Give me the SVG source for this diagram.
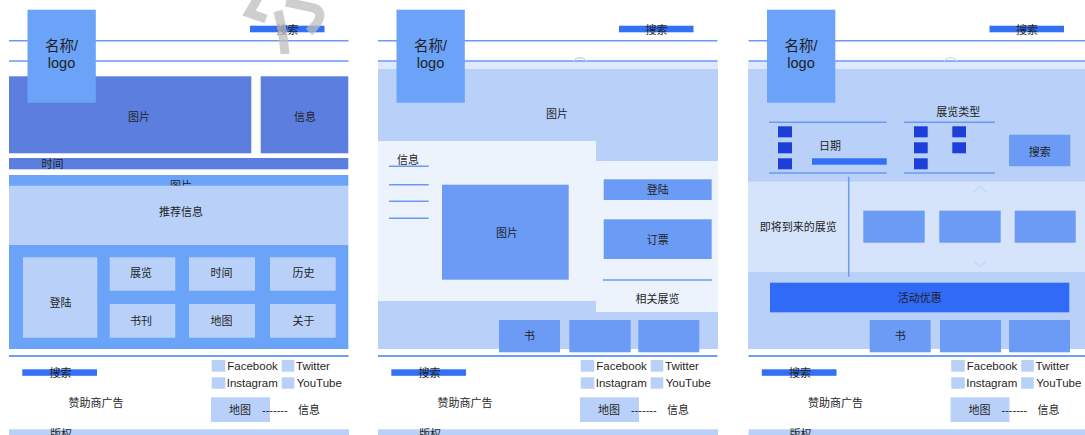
<svg xmlns="http://www.w3.org/2000/svg" xmlns:xlink="http://www.w3.org/1999/xlink" width="1085" height="435" viewBox="0 0 1085 435">
<style>
text{font-family:"Liberation Sans","Noto Sans CJK SC",sans-serif;font-size:11px;fill:#1f1f1f;dominant-baseline:central}
.c{text-anchor:middle}
.logo{font-size:14.5px}
.lat{font-size:11.5px}
.hl{stroke:#6a9af2;stroke-width:1.5;fill:none}
.fl{stroke:#3d7ff4;stroke-width:1.6;fill:none}
.lt{fill:#b9d1f8}
.md{fill:#6b9bf4}
.dk{fill:#5c7fdf}
.lg{fill:#6aa3f8}
.br{fill:#3370f5}
.sq{fill:#1b3fd8}
.wm{stroke:#bdbdbd;stroke-width:9;fill:none;stroke-opacity:0.75;stroke-linecap:butt}
.chev{stroke:#c3d5f5;stroke-width:1.2;fill:none}
</style>
<defs>
<g id="header">
<line class="hl" x1="9" y1="40.7" x2="348.5" y2="40.7"/>
<line class="hl" x1="9" y1="61" x2="348.5" y2="61"/>
<rect class="br" x="250" y="25.7" width="74.5" height="6.6"/>
<text class="c" x="287.5" y="29.5">搜索</text>
</g>
<g id="logo">
<rect class="lg" x="27.5" y="9.7" width="68.3" height="93"/>
<text class="c logo" x="61.5" y="45.5">名称/</text>
<text class="c logo" x="61.5" y="62.5">logo</text>
</g>
<g id="footer">
<line class="fl" x1="9" y1="356" x2="348.5" y2="356"/>
<rect class="br" x="22.3" y="369.3" width="74.7" height="6.5"/>
<text class="c" x="60.5" y="372.8">搜索</text>
<text class="c" x="96" y="403">赞助商广告</text>
<rect class="lt" x="211.7" y="360" width="13.6" height="11.7"/>
<text class="lat" x="227.3" y="366.3">Facebook</text>
<rect class="lt" x="281.7" y="360" width="12.6" height="11.7"/>
<text class="lat" x="296" y="366.3">Twitter</text>
<rect class="lt" x="211.7" y="377.3" width="13.6" height="11.4"/>
<text class="lat" x="226.7" y="383">Instagram</text>
<rect class="lt" x="281.7" y="377.3" width="12.6" height="11.4"/>
<text class="lat" x="296.7" y="383">YouTube</text>
<rect class="lt" x="211" y="397.3" width="59" height="24.7"/>
<text class="c" x="240" y="410">地图</text>
<text x="262" y="410">-------</text>
<text class="c" x="309" y="410">信息</text>
<rect class="lt" x="9" y="429.3" width="340" height="6"/>
<text class="c" x="61" y="433.5">版权</text>
</g>
</defs>

<rect x="0" y="0" width="1085" height="435" fill="#ffffff"/>

<!-- Panel 1 -->
<g id="panel1">
<use xlink:href="#header"/>
<g id="p1-image"><rect class="dk" x="9" y="76.3" width="242.3" height="77"/><text class="c" x="139" y="117">图片</text></g>
<g id="p1-info"><rect class="dk" x="260.7" y="76.3" width="87.6" height="77"/><text class="c" x="305" y="117">信息</text></g>
<g id="p1-time"><rect class="dk" x="9" y="158" width="339.3" height="11.3"/><text class="c" x="52.6" y="164">时间</text></g>
<g id="p1-strip"><rect class="lg" x="9" y="175" width="339.3" height="11"/><text class="c" x="181" y="185.5">图片</text></g>
<g id="p1-recommend"><rect class="lt" x="9" y="185.7" width="339.3" height="59.3"/><text class="c" x="181" y="211.7">推荐信息</text></g>
<rect class="lg" x="9" y="245" width="339.3" height="104"/>
<g id="p1-login"><rect class="lt" x="23" y="257.3" width="74.3" height="80.4"/><text class="c" x="60.5" y="302.5">登陆</text></g>
<g id="p1-exhibit"><rect class="lt" x="109.7" y="257.3" width="65.6" height="33.4"/><text class="c" x="141" y="273">展览</text></g>
<g id="p1-time2"><rect class="lt" x="189" y="257.3" width="66" height="33.4"/><text class="c" x="221.5" y="273">时间</text></g>
<g id="p1-history"><rect class="lt" x="270" y="257.3" width="65.7" height="33.4"/><text class="c" x="303.5" y="273">历史</text></g>
<g id="p1-books"><rect class="lt" x="109.7" y="304" width="65.6" height="33.7"/><text class="c" x="141" y="320.5">书刊</text></g>
<g id="p1-map"><rect class="lt" x="189" y="304" width="66" height="33.7"/><text class="c" x="221.5" y="320.5">地图</text></g>
<g id="p1-about"><rect class="lt" x="270" y="304" width="65.7" height="33.7"/><text class="c" x="303.5" y="320.5">关于</text></g>
<use xlink:href="#logo"/>
<use xlink:href="#footer"/>
<g id="watermark">
<path class="wm" d="M258,-2 L249,13 L266,19"/>
<path class="wm" d="M278,11 Q283,30 285,54"/>
<path class="wm" d="M286,2 L314,8 Q328,14 309,32"/>
</g>
</g>

<!-- Panel 2 -->
<g id="panel2">
<rect x="378" y="61" width="340" height="288" fill="#edf3fd"/>
<rect x="378" y="61" width="340" height="8" fill="#dfe9fc"/>
<use xlink:href="#header" x="369"/>
<path class="chev" d="M573,61 Q580,54 587,61"/>
<g id="p2-hero"><path class="lt" d="M378,69 H718 V161 H596 V141 H378 Z"/><text class="c" x="557" y="114">图片</text></g>
<path class="lt" d="M378,301 H596 V312 H718 V349 H378 Z"/>
<g id="p2-info">
<text class="c" x="408" y="160">信息</text>
<line class="hl" x1="389" y1="166.3" x2="428.7" y2="166.3"/>
<line class="hl" x1="389" y1="184.7" x2="428.7" y2="184.7"/>
<line class="hl" x1="389" y1="201.3" x2="428.7" y2="201.3"/>
<line class="hl" x1="389" y1="218.3" x2="428.7" y2="218.3"/>
</g>
<g id="p2-image"><rect class="md" x="442" y="184.7" width="126.7" height="95"/><text class="c" x="507" y="233">图片</text></g>
<g id="p2-login"><rect class="md" x="603.7" y="179.3" width="108" height="20.7"/><text class="c" x="657.7" y="190">登陆</text></g>
<g id="p2-ticket"><rect class="md" x="603.7" y="219.3" width="108" height="39.7"/><text class="c" x="657.7" y="239.5">订票</text></g>
<g id="p2-related"><line class="hl" x1="603" y1="280" x2="712" y2="280"/><text class="c" x="657.5" y="298.5">相关展览</text></g>
<g id="p2-book1"><rect class="md" x="499" y="320" width="61" height="32.3"/><text class="c" x="529.5" y="336">书</text></g>
<g id="p2-book2"><rect class="md" x="569.3" y="320" width="61.4" height="32.3"/></g>
<g id="p2-book3"><rect class="md" x="638.3" y="320" width="61" height="32.3"/></g>
<use xlink:href="#logo" x="369"/>
<use xlink:href="#footer" x="369"/>
</g>

<!-- Panel 3 -->
<g id="panel3">
<rect x="748" y="61" width="337" height="8" fill="#dfe9fc"/>
<rect class="lt" x="748" y="69" width="337" height="113"/>
<rect x="748" y="181.7" width="337" height="90" fill="#d6e4fb"/>
<rect class="lt" x="748" y="271.7" width="337" height="77.3"/>
<use xlink:href="#header" x="739.5"/>
<path class="chev" d="M944,61 Q950.5,54 957,61"/>
<g id="p3-date">
<line class="hl" x1="769" y1="122.3" x2="886.7" y2="122.3"/>
<line class="hl" x1="769" y1="173" x2="886.7" y2="173"/>
<rect class="sq" x="778" y="126.3" width="14" height="11"/>
<rect class="sq" x="778" y="142.3" width="14" height="11"/>
<rect class="sq" x="778" y="158.3" width="14" height="11"/>
<text class="c" x="830" y="146.3">日期</text>
<rect class="br" x="812" y="158.3" width="74.7" height="6.4"/>
</g>
<g id="p3-type">
<text class="c" x="958.3" y="111.7">展览类型</text>
<line class="hl" x1="904" y1="122.3" x2="995" y2="122.3"/>
<line class="hl" x1="904" y1="173" x2="995" y2="173"/>
<rect class="sq" x="914" y="126.3" width="13.7" height="11"/>
<rect class="sq" x="914" y="142.3" width="13.7" height="11"/>
<rect class="sq" x="914" y="158.3" width="13.7" height="11"/>
<rect class="sq" x="952.3" y="126.3" width="13.7" height="11"/>
<rect class="sq" x="952.3" y="142.3" width="13.7" height="11"/>
</g>
<g id="p3-search"><rect class="md" x="1009" y="134.7" width="61.3" height="31.6"/><text class="c" x="1039.7" y="151.5">搜索</text></g>
<g id="p3-upcoming">
<line class="hl" x1="848.7" y1="176.7" x2="848.7" y2="276.7"/>
<text class="c" x="798.3" y="227.3">即将到来的展览</text>
<rect class="md" x="863.3" y="210.7" width="61.4" height="32"/>
<rect class="md" x="939.3" y="210.7" width="61.4" height="32"/>
<rect class="md" x="1014.7" y="210.7" width="61" height="32"/>
<path class="chev" d="M973,192 L980,186.5 L987,192"/>
<path class="chev" d="M973,261 L980,266.5 L987,261"/>
</g>
<g id="p3-promo"><rect x="770" y="282.7" width="299.3" height="29.6" fill="#316af6"/><text class="c" x="919.7" y="298">活动优惠</text></g>
<g id="p3-book1"><rect class="md" x="869.7" y="320" width="61" height="32.3"/><text class="c" x="900.2" y="336">书</text></g>
<g id="p3-book2"><rect class="md" x="940" y="320" width="61" height="32.3"/></g>
<g id="p3-book3"><rect class="md" x="1009" y="320" width="61" height="32.3"/></g>
<use xlink:href="#logo" x="739.5"/>
<use xlink:href="#footer" x="739.5"/>
</g>
</svg>
